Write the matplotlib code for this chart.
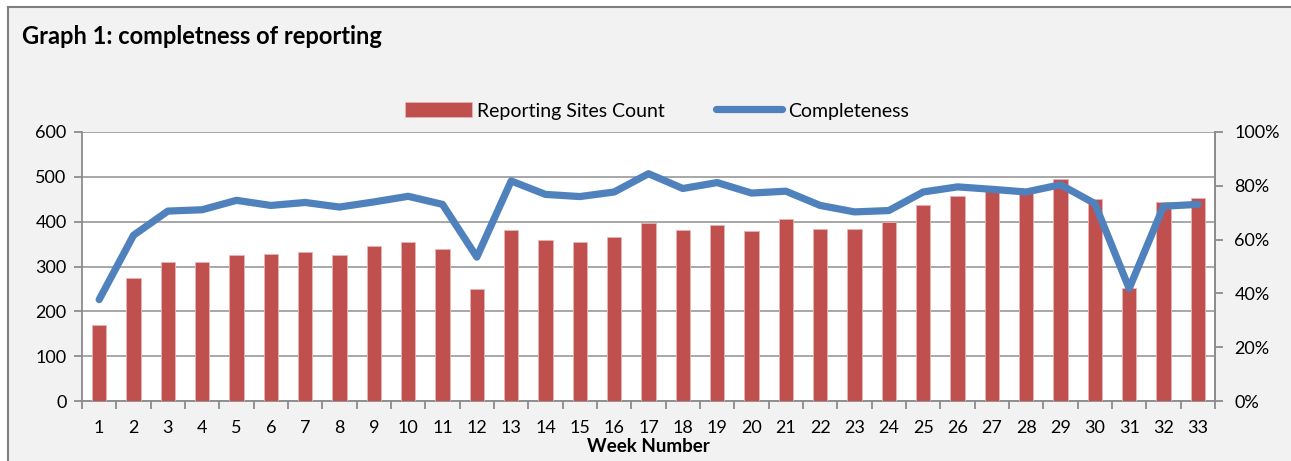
import numpy as np
import matplotlib
matplotlib.use("Agg")
from matplotlib import pyplot as plt
from matplotlib.lines import Line2D
from matplotlib.ticker import FuncFormatter

plt.rcParams['font.family'] = ['Lato', 'DejaVu Sans']

weeks = list(range(1, 34))
sites_count = [169, 274, 309, 311, 326, 327, 332, 325, 346, 354, 339, 249,
               381, 360, 355, 366, 397, 382, 392, 380, 405, 384, 384, 400,
               438, 457, 470, 467, 495, 451, 251, 443, 453]
completeness = [37.7, 61.6, 70.6, 71.1, 74.6, 72.7, 73.8, 72.1, 74.0, 76.1, 73.1, 53.5,
                81.8, 76.8, 76.0, 77.7, 84.5, 79.0, 81.2, 77.3, 78.0, 72.7, 70.3, 70.8,
                77.7, 79.6, 78.7, 77.7, 80.4, 73.4, 41.8, 72.4, 73.1]

bar_col = '#c0504d'
line_col = '#4f81bd'
grey = '#8c8c8c'

fig = plt.figure(figsize=(12.91, 4.61), dpi=100)
fig.patch.set_facecolor('#f2f2f2')
# white margin above / left of the chart frame, then the frame lines
bx, by = 8/1291, 1 - 7/461
fig.patches.append(plt.Rectangle((0, by), 1, 1 - by, transform=fig.transFigure,
                                 facecolor='white', edgecolor='none', zorder=-10))
fig.patches.append(plt.Rectangle((0, 0), bx, 1, transform=fig.transFigure,
                                 facecolor='white', edgecolor='none', zorder=-10))
fig.lines.append(Line2D([bx, 1], [by, by], transform=fig.transFigure, color='#7f7f7f', linewidth=1.5))
fig.lines.append(Line2D([bx, bx], [0, by], transform=fig.transFigure, color='#7f7f7f', linewidth=1.5))

ax = fig.add_axes([82/1291, 1 - 401/461, (1215 - 82)/1291, (401 - 132)/461])
ax.set_facecolor('white')
ax.bar(weeks, sites_count, width=0.41, color=bar_col, edgecolor='#e8b5b4', linewidth=0.6,
       label='Reporting Sites Count', zorder=3)
ax.set_xlim(0.5, 33.5)
ax.set_ylim(0, 600)
ax.set_yticks(range(0, 601, 100))
ax.grid(axis='y', color='#a0a0a0', linewidth=1.3, zorder=0)
ax.set_axisbelow(True)

ax.set_xticks(weeks)
ax.set_xticks(np.arange(0.5, 34, 1), minor=True)
ax.tick_params(axis='x', which='major', length=0, pad=14, labelsize=13)
ax.tick_params(axis='x', which='minor', length=6, width=1.3, color=grey)
ax.tick_params(axis='y', length=6, width=1.3, color=grey, labelsize=13, pad=5)
ax.spines['top'].set_visible(False)
for s in ['left', 'bottom', 'right']:
    ax.spines[s].set_color(grey)
    ax.spines[s].set_linewidth(1.3)

ax2 = ax.twinx()
ax2.patch.set_visible(False)
ax2.plot(weeks, completeness, color=line_col, linewidth=5.2, solid_capstyle='round',
         solid_joinstyle='round', label='Completeness', zorder=4)
ax2.set_ylim(0, 100)
ax2.set_yticks(range(0, 101, 20))
ax2.yaxis.set_major_formatter(FuncFormatter(lambda v, p: '%d%%' % v))
ax2.tick_params(axis='y', length=6, width=1.3, color=grey, labelsize=13, pad=8)
for s in ['top', 'left', 'bottom']:
    ax2.spines[s].set_visible(False)
ax2.spines['right'].set_color(grey)
ax2.spines['right'].set_linewidth(1.3)

ax.set_xlabel('Week Number', fontsize=13.5, fontweight='bold', labelpad=1)

h1, l1 = ax.get_legend_handles_labels()
h2, l2 = ax2.get_legend_handles_labels()
fig.legend(h1 + h2, l1 + l2, loc='center', bbox_to_anchor=(657/1291, 1 - 111/461), ncol=2,
           frameon=False, fontsize=14, handlelength=3.4, handleheight=0.8,
           handletextpad=0.3, columnspacing=2.6)

fig.text(22/1291, 1 - 36/461, 'Graph 1: completness of reporting', fontsize=17,
         fontweight='bold', ha='left', va='center')

fig.savefig('out.png', dpi=100, facecolor=fig.get_facecolor())
